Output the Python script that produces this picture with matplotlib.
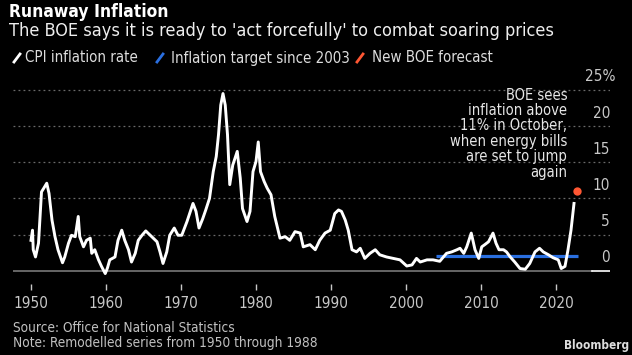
import matplotlib.pyplot as plt
from matplotlib.lines import Line2D

plt.rcParams['font.family'] = ['DejaVu Sans']
plt.rcParams['font.stretch'] = 'condensed'

# CPI inflation rate (year, % y/y)
cpi_years = [1950.0, 1950.2, 1950.3, 1950.6, 1951.0, 1951.4, 1951.7, 1952.1, 1952.4, 1952.8,
             1953.2, 1953.6, 1954.2, 1954.5, 1955.0, 1955.4, 1955.9, 1956.3, 1956.5, 1957.0,
             1957.4, 1957.9, 1958.1, 1958.5, 1959.0, 1959.4, 1959.9, 1960.2, 1960.5, 1961.2,
             1961.6, 1962.1, 1962.5, 1963.0, 1963.4, 1963.9, 1964.3, 1964.8, 1965.3, 1966.1,
             1966.8, 1967.2, 1967.6, 1968.1, 1968.5, 1969.1, 1969.6, 1970.1, 1970.8, 1971.6,
             1972.0, 1972.4, 1972.9, 1973.3, 1973.8, 1974.3, 1974.7, 1975.0, 1975.3, 1975.6,
             1975.9, 1976.2, 1976.5, 1976.9, 1977.5, 1977.9, 1978.2, 1978.8, 1979.2, 1979.6,
             1980.0, 1980.3, 1980.6, 1981.1, 1981.5, 1982.0, 1982.5, 1983.2, 1983.9, 1984.5,
             1985.2, 1985.9, 1986.3, 1987.2, 1987.9, 1988.5, 1989.2, 1989.9, 1990.5, 1991.0,
             1991.4, 1991.9, 1992.3, 1992.8, 1993.4, 1993.9, 1994.5, 1995.2, 1995.9, 1996.5,
             1997.4, 1998.3, 1999.2, 2000.1, 2000.8, 2001.4, 2001.9, 2002.8, 2003.6, 2004.5,
             2005.4, 2006.1, 2006.8, 2007.2, 2007.7, 2008.1, 2008.7, 2009.2, 2009.7, 2010.1,
             2010.5, 2011.0, 2011.6, 2012.0, 2012.4, 2013.0, 2013.4, 2013.9, 2014.5, 2015.2,
             2015.9, 2016.5, 2017.2, 2017.8, 2018.3, 2019.0, 2019.6, 2020.3, 2020.7, 2021.2,
             2021.6, 2022.0, 2022.4]
cpi_values = [4.2, 5.6, 2.9, 1.9, 3.8, 10.9, 11.4, 12.1, 10.7, 7.0,
              4.7, 2.9, 1.1, 1.9, 3.8, 4.9, 4.7, 7.5, 4.7, 3.3,
              4.2, 4.5, 2.4, 2.9, 1.5, 0.6, -0.4, 0.4, 1.5, 1.9,
              4.2, 5.6, 4.2, 2.9, 1.2, 2.4, 4.2, 4.9, 5.5, 4.7,
              4.0, 2.6, 1.0, 2.6, 4.9, 5.9, 4.9, 4.9, 6.8, 9.3,
              8.2, 5.9, 7.2, 8.4, 10.0, 13.7, 15.8, 18.8, 22.9, 24.5,
              22.9, 18.8, 11.9, 14.6, 16.5, 12.8, 8.6, 6.8, 8.2, 13.7,
              15.1, 17.8, 13.7, 12.3, 11.4, 10.5, 7.5, 4.5, 4.7, 4.2,
              5.4, 5.2, 3.3, 3.6, 2.9, 4.2, 5.2, 5.6, 7.9, 8.4,
              8.2, 7.0, 5.6, 2.9, 2.6, 3.1, 1.7, 2.4, 2.9, 2.2,
              1.9, 1.7, 1.5, 0.65, 0.8, 1.7, 1.2, 1.5, 1.5, 1.3,
              2.4, 2.6, 2.9, 3.1, 2.4, 3.3, 5.2, 2.9, 1.7, 3.3,
              3.6, 4.0, 5.2, 3.8, 2.9, 2.9, 2.6, 1.9, 1.2, 0.3,
              0.2, 1.0, 2.6, 3.1, 2.6, 2.2, 1.8, 1.5, 0.3, 0.6,
              2.9, 5.6, 9.3]

target_years = [2004.0, 2023.0]
target_values = [2.0, 2.0]

forecast_year = 2022.8
forecast_value = 11.0

yticks = [0, 5, 10, 15, 20, 25]
xticks = [1950, 1960, 1970, 1980, 1990, 2000, 2010, 2020]

W, H = 632, 355
fig = plt.figure(figsize=(W / 100, H / 100), dpi=100, facecolor='black')


def fx(px):
    return px / W


def fy(py):
    return 1 - py / H


ax = fig.add_axes([fx(13), fy(284), fx(610) - fx(13), fy(85) - fy(284)])
ax.set_facecolor('black')
ax.set_xlim(1947.6, 2027.2)
ax.set_ylim(-1.84, 25.68)

# gridlines and labels above them
for v in yticks[1:]:
    ax.axhline(v, color='#6a6a6a', lw=0.9, ls=(0, (1.5, 2.5)), zorder=1)
ax.plot([0, 0.97], [0, 0], transform=ax.get_yaxis_transform(), color='#777777', lw=1.2, zorder=1)
ax.plot([0.97, 1.0], [0, 0], transform=ax.get_yaxis_transform(), color='white', lw=1.2, zorder=1)
for v in yticks:
    lab = '25%' if v == 25 else str(v)
    xr = 1.01 if v == 25 else 1.0
    ax.text(xr, v + 0.75, lab, transform=ax.get_yaxis_transform(), ha='right', va='bottom',
            color='#c8c8c8', fontsize=11)

ax.plot(target_years, target_values, color='#2a6fe0', lw=2.3, zorder=2, solid_capstyle='butt')
ax.plot(cpi_years, cpi_values, color='white', lw=2.1, zorder=3)
ax.scatter([forecast_year], [forecast_value], s=36, color='#ff5733', zorder=4, linewidths=0)

ax.text(2021.5, 25.3, "BOE sees\ninflation above\n11% in October,\nwhen energy bills\nare set to jump\nagain",
        ha='right', va='top', color='#e6e6e6', fontsize=10.5, linespacing=1.03, zorder=5)

for s in ax.spines.values():
    s.set_visible(False)
ax.set_yticks([])
ax.set_xticks(xticks)
ax.tick_params(axis='x', colors='#c8c8c8', length=4, width=1, pad=5, labelsize=11)

# header
fig.text(fx(9), fy(12), 'Runaway Inflation', color='white', fontsize=12.5, fontweight='bold', va='center')
fig.text(fx(9), fy(31), "The BOE says it is ready to 'act forcefully' to combat soaring prices",
         color='#eeeeee', fontsize=13, va='center')

# legend
legend_items = [(14, 25, 'CPI inflation rate', 'white'),
                (157, 171, 'Inflation target since 2003', '#2a6fe0'),
                (357, 372, 'New BOE forecast', '#ff5733')]
for x0, xt, txt, c in legend_items:
    fig.add_artist(Line2D([fx(x0), fx(x0 + 6)], [fy(62), fy(54)], color=c, lw=2))
    fig.text(fx(xt), fy(58), txt, color='#dddddd', fontsize=10.8, va='center')

# footer
fig.text(fx(13), fy(328), 'Source: Office for National Statistics', color='#c0c0c0', fontsize=9.8, va='center')
fig.text(fx(13), fy(343), 'Note: Remodelled series from 1950 through 1988', color='#c0c0c0', fontsize=9.8, va='center')
fig.text(fx(629), fy(346), 'Bloomberg', color='#dddddd', fontsize=8.5, fontweight='bold', ha='right', va='center')

fig.savefig('out.png', dpi=100, facecolor='black')
